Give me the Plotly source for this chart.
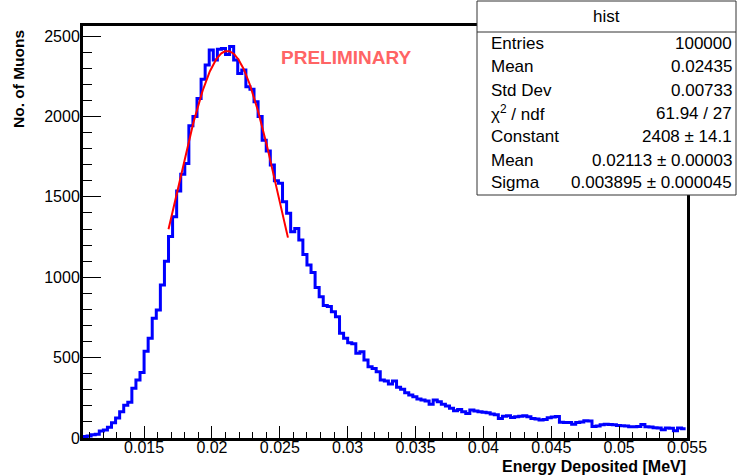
import numpy as np
import plotly.graph_objects as go

# ---------------- data ----------------
bin_low_edge = 0.0105      # MeV, first bin lower edge
bin_width = 0.0003         # MeV
counts = [
    9, 12, 20, 24, 44, 50, 67, 95, 124, 163,
    203, 222, 310, 361, 407, 540, 621, 745, 796, 952,
    1100, 1254, 1376, 1536, 1640, 1708, 1943, 2000, 2112, 2232,
    2320, 2413, 2351, 2419, 2423, 2386, 2436, 2351, 2267, 2289,
    2185, 2170, 2092, 2000, 1853, 1786, 1698, 1600, 1584, 1470,
    1398, 1283, 1304, 1231, 1142, 1076, 1030, 937, 879, 825,
    818, 786, 754, 651, 620, 592, 586, 527, 537, 485,
    443, 433, 412, 361, 355, 336, 355, 315, 303, 282,
    267, 257, 243, 236, 230, 210, 236, 226, 210, 199,
    185, 170, 178, 164, 153, 174, 168, 164, 160, 157,
    150, 145, 122, 135, 138, 128, 132, 135, 138, 132,
    122, 118, 112, 115, 126, 130, 133, 98, 96, 96,
    86, 96, 100, 108, 106, 72, 75, 82, 86, 84,
    82, 78, 76, 74, 70, 70, 72, 84, 70, 68,
    64, 62, 52, 62, 60, 45, 62, 58,
]

fit_constant = 2408.0
fit_mean = 0.02113
fit_sigma = 0.003895
fit_range = [0.0168, 0.0256]

x_tick_vals = [0.015, 0.02, 0.025, 0.03, 0.035, 0.04, 0.045, 0.05, 0.055]
x_tick_text = ["0.015", "0.02", "0.025", "0.03", "0.035", "0.04", "0.045", "0.05", "0.055"]
y_tick_vals = [0, 500, 1000, 1500, 2000, 2500]
y_tick_text = ["0", "500", "1000", "1500", "2000", "2500"]

stats_labels = ["Entries", "Mean", "Std Dev", "χ<sup>2</sup> / ndf", "Constant", "Mean", "Sigma"]
stats_values = ["100000", "0.02435", "0.00733", "61.94 / 27",
                "2408 ± 14.1", "0.02113 ± 0.00003", "0.003895 ± 0.000045"]

x_range = [0.0105, 0.055]
y_range = [0, 2563]

# ---------------- layout geometry (pixels) ----------------
W, H = 737, 476
L, R, T, B = 83, 50, 26, 38
PW, PH = W - L - R, H - T - B


def px(X):
    return (X - L) / PW


def py(Y):
    return (H - B - Y) / PH


# ---------------- traces ----------------
counts_arr = np.array(counts, dtype=float)
n = len(counts_arr)
edges = bin_low_edge + bin_width * np.arange(n + 1)
step_x = edges
step_y = np.append(counts_arr, counts_arr[-1])

fig = go.Figure()
fig.add_trace(go.Scatter(
    x=step_x, y=step_y, mode="lines", line=dict(shape="hv", color="#0000ff", width=3),
    hoverinfo="skip", showlegend=False,
))

fx = np.linspace(fit_range[0], fit_range[1], 200)
fy = fit_constant * np.exp(-0.5 * ((fx - fit_mean) / fit_sigma) ** 2)
fig.add_trace(go.Scatter(
    x=fx, y=fy, mode="lines", line=dict(color="#ff0000", width=2),
    hoverinfo="skip", showlegend=False,
))

FONT = "Liberation Sans, Arial, Helvetica, sans-serif"

fig.update_layout(
    width=W, height=H,
    margin=dict(l=L, r=R, t=T, b=B, pad=0),
    paper_bgcolor="white", plot_bgcolor="white",
    font=dict(family=FONT, color="black", size=16),
    xaxis=dict(
        range=x_range, showgrid=False, zeroline=False,
        showline=True, mirror=True, linecolor="black", linewidth=3,
        tickmode="array", tickvals=x_tick_vals, ticktext=x_tick_text,
        ticks="inside", ticklen=12, tickwidth=1, tickcolor="black",
        ticklabelstandoff=-7,
        minor=dict(tickmode="linear", tick0=0.0, dtick=0.001, ticks="inside",
                   ticklen=6, tickwidth=1, tickcolor="black", showgrid=False),
        tickfont=dict(size=16, family=FONT),
    ),
    yaxis=dict(
        range=y_range, showgrid=False, zeroline=False,
        showline=True, mirror=True, linecolor="black", linewidth=3,
        tickmode="array", tickvals=y_tick_vals, ticktext=y_tick_text,
        ticks="inside", ticklen=18, tickwidth=1, tickcolor="black",
        ticklabelstandoff=-3,
        minor=dict(tickmode="linear", tick0=0, dtick=100, ticks="inside",
                   ticklen=9, tickwidth=1, tickcolor="black", showgrid=False),
        tickfont=dict(size=16, family=FONT),
    ),
)

annotations = []
# axis titles
annotations.append(dict(
    text="<b>No. of Muons</b>", xref="paper", yref="paper",
    x=px(18), y=py(28), xanchor="center", yanchor="top", textangle=-90,
    showarrow=False, font=dict(size=15.5, family=FONT, color="black"),
))
annotations.append(dict(
    text="<b>Energy Deposited [MeV]</b>", xref="paper", yref="paper",
    x=px(688), y=py(466), xanchor="right", yanchor="middle",
    showarrow=False, font=dict(size=16, family=FONT, color="black"),
))
annotations.append(dict(
    text="<b>PRELIMINARY</b>", xref="paper", yref="paper",
    x=px(346), y=py(58), xanchor="center", yanchor="middle",
    showarrow=False, font=dict(size=19, family=FONT, color="#ff6464"),
))

# stats box
box_l, box_r, box_t, box_b = 477, 736, 1, 195
shapes = [
    dict(type="rect", xref="paper", yref="paper",
         x0=px(box_l), x1=px(box_r), y0=py(box_b), y1=py(box_t),
         fillcolor="white", line=dict(color="#333333", width=1), layer="above"),
    dict(type="line", xref="paper", yref="paper",
         x0=px(box_l), x1=px(box_r), y0=py(32), y1=py(32),
         line=dict(color="#333333", width=1), layer="above"),
]
annotations.append(dict(
    text="hist", xref="paper", yref="paper", x=px((box_l + box_r) / 2), y=py(16),
    xanchor="center", yanchor="middle", showarrow=False,
    font=dict(size=17, family=FONT, color="black"),
))
row_y = [44, 67, 90, 113, 136, 160, 182]
for lab, val, yy in zip(stats_labels, stats_values, row_y):
    annotations.append(dict(
        text=lab, xref="paper", yref="paper", x=px(489), y=py(yy),
        xanchor="left", yanchor="middle", showarrow=False,
        font=dict(size=17, family=FONT, color="black"),
    ))
    annotations.append(dict(
        text=val, xref="paper", yref="paper", x=px(734), y=py(yy),
        xanchor="right", yanchor="middle", showarrow=False,
        font=dict(size=17, family=FONT, color="black"),
    ))

fig.update_layout(annotations=annotations, shapes=shapes)

fig.write_html(
    "out.html",
    config={"displayModeBar": False},
    post_script="document.body.style.margin='0';document.body.style.padding='0';"
                "document.documentElement.style.overflow='hidden';",
)
